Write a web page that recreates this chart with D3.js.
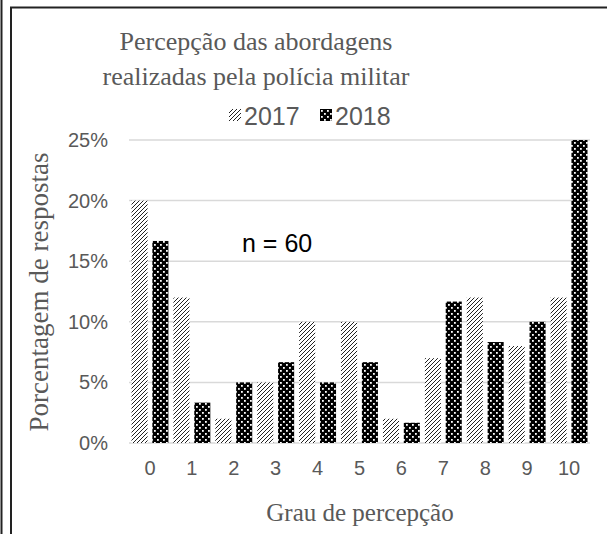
<!DOCTYPE html>
<html>
<head>
<meta charset="utf-8">
<script src="https://cdn.jsdelivr.net/npm/d3@7"></script>
<style>
  body { margin: 0; background: #fff; }
  svg { display: block; }
</style>
</head>
<body>
<div id="chart"></div>
<script>
const categories = ["0", "1", "2", "3", "4", "5", "6", "7", "8", "9", "10"];
const series = ["2017", "2018"];
const values2017 = [0.20, 0.12, 0.02, 0.05, 0.10, 0.10, 0.02, 0.07, 0.12, 0.08, 0.12];
const values2018 = [0.1667, 0.0333, 0.05, 0.0667, 0.05, 0.0667, 0.0167, 0.1167, 0.0833, 0.10, 0.25];
const yTicks = [0, 0.05, 0.10, 0.15, 0.20, 0.25];

const width = 607;
const height = 534;
const plotLeft = 129, plotRight = 590, plotTop = 140, plotBottom = 443;

let svg = d3.select("#chart")
    .append("svg")
    .attr("width", width)
    .attr("height", height);

// patterns
let defs = svg.append("defs");
let hatch = defs.append("pattern")
    .attr("id", "hatch")
    .attr("patternUnits", "userSpaceOnUse")
    .attr("width", 4)
    .attr("height", 4);
hatch.append("rect").attr("width", 4).attr("height", 4).attr("fill", "#fff");
hatch.append("path")
    .attr("d", "M-1,1 L1,-1 M0,4 L4,0 M3,5 L5,3")
    .attr("stroke", "#222")
    .attr("stroke-width", 1.0);

let dots = defs.append("pattern")
    .attr("id", "dots")
    .attr("patternUnits", "userSpaceOnUse")
    .attr("width", 6)
    .attr("height", 6);
dots.append("rect").attr("width", 6).attr("height", 6).attr("fill", "#000");
dots.append("rect").attr("x", 1).attr("y", 1).attr("width", 1.8).attr("height", 1.8).attr("fill", "#fff");
dots.append("rect").attr("x", 4).attr("y", 4).attr("width", 1.8).attr("height", 1.8).attr("fill", "#fff");

const fills = { "2017": "url(#hatch)", "2018": "url(#dots)" };

// frame lines
svg.append("line").attr("x1", 1.5).attr("x2", 1.5).attr("y1", 0).attr("y2", height)
    .attr("stroke", "#222").attr("stroke-width", 2);
svg.append("path").attr("d", `M11,${height} L11,7.5 L${width},7.5`)
    .attr("fill", "none").attr("stroke", "#222").attr("stroke-width", 2);

//scales
let xScale = d3.scaleBand()
    .domain(categories)
    .range([plotLeft, plotRight]);

let xInner = d3.scaleBand()
    .domain(series)
    .range([0, xScale.bandwidth()])
    .paddingInner(0.23)
    .paddingOuter(0.12);

let yScale = d3.scaleLinear()
    .domain([0, 0.25])
    .range([plotBottom, plotTop]);

// grid
svg.append("g")
    .selectAll("line")
    .data(yTicks)
    .join("line")
    .attr("x1", plotLeft)
    .attr("x2", plotRight)
    .attr("y1", d => yScale(d))
    .attr("y2", d => yScale(d))
    .attr("stroke", "#d9d9d9")
    .attr("stroke-width", 1.5);

// bars
let data = [];
categories.forEach((c, i) => {
    data.push({ cat: c, s: "2017", v: values2017[i] });
    data.push({ cat: c, s: "2018", v: values2018[i] });
});

svg.append("g")
    .selectAll("rect")
    .data(data)
    .join("rect")
    .attr("x", d => xScale(d.cat) + xInner(d.s))
    .attr("y", d => yScale(d.v))
    .attr("width", xInner.bandwidth())
    .attr("height", d => plotBottom - yScale(d.v))
    .attr("fill", d => fills[d.s]);

// y axis
let yAxis = d3.axisLeft(yScale)
    .tickValues(yTicks)
    .tickFormat(d3.format(".0%"))
    .tickSize(0)
    .tickPadding(0);

svg.append("g")
    .attr("transform", "translate(108,0)")
    .call(yAxis)
    .call(g => g.select(".domain").remove())
    .selectAll("text")
    .attr("font-family", "Liberation Sans, Arial, sans-serif")
    .attr("font-size", "20px")
    .attr("fill", "#595959");

// x axis
let xAxis = d3.axisBottom(xScale).tickSize(0).tickPadding(0);

svg.append("g")
    .attr("transform", "translate(0,461)")
    .call(xAxis)
    .call(g => g.select(".domain").remove())
    .selectAll("text")
    .attr("font-family", "Liberation Sans, Arial, sans-serif")
    .attr("font-size", "20px")
    .attr("fill", "#595959");

// title
svg.append("text")
    .attr("x", 256)
    .attr("y", 50)
    .attr("text-anchor", "middle")
    .attr("font-family", "Liberation Serif, Times New Roman, serif")
    .attr("font-size", "26px")
    .attr("fill", "#595959")
    .text("Percepção das abordagens");

svg.append("text")
    .attr("x", 256)
    .attr("y", 85)
    .attr("text-anchor", "middle")
    .attr("font-family", "Liberation Serif, Times New Roman, serif")
    .attr("font-size", "26px")
    .attr("fill", "#595959")
    .text("realizadas pela polícia militar");

// legend
let legend = svg.append("g")
    .selectAll("g")
    .data(series)
    .join("g")
    .attr("transform", (d, i) => `translate(${229 + i * 91},109)`);

legend.append("rect")
    .attr("width", 12)
    .attr("height", 12)
    .attr("fill", d => fills[d]);

legend.append("text")
    .attr("x", 15)
    .attr("y", 16)
    .attr("font-family", "Liberation Sans, Arial, sans-serif")
    .attr("font-size", "25px")
    .attr("fill", "#595959")
    .text(d => d);

// annotation
svg.append("text")
    .attr("x", 242)
    .attr("y", 252)
    .attr("font-family", "Liberation Sans, Arial, sans-serif")
    .attr("font-size", "25px")
    .attr("fill", "#000")
    .text("n = 60");

// Y Label
svg.append("text")
    .attr("transform", "rotate(-90)")
    .attr("x", -292)
    .attr("y", 48)
    .attr("text-anchor", "middle")
    .attr("font-family", "Liberation Serif, Times New Roman, serif")
    .attr("font-size", "27px")
    .attr("fill", "#595959")
    .text("Porcentagem de respostas");

// X Label
svg.append("text")
    .attr("x", 360)
    .attr("y", 521)
    .attr("text-anchor", "middle")
    .attr("font-family", "Liberation Serif, Times New Roman, serif")
    .attr("font-size", "25px")
    .attr("fill", "#595959")
    .text("Grau de percepção");
</script>
</body>
</html>
